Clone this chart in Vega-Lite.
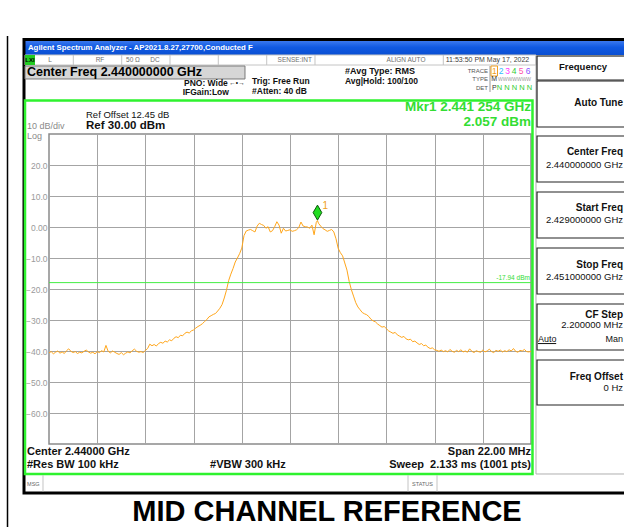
{
"$schema": "https://vega.github.io/schema/vega-lite/v6.json",
"width": 482, "height": 310,
"autosize": {"type": "none"},
"padding": {"left": 49, "top": 134, "right": 93, "bottom": 83},
"background": "white",
"config": {"font": "Liberation Sans", "view": {"stroke": "#8a8a8a", "strokeWidth": 1.5}, "text": {"font": "Liberation Sans", "baseline": "middle"}},
"data": {"values": [{}]},
"layer": [
{"mark": {"type": "line", "color": "#ffa61a", "strokeWidth": 1, "clip": true},
 "data": {"values": [
{"freq_MHz":2429.0,"level_dBm":-40.6},{"freq_MHz":2429.1,"level_dBm":-40.2},{"freq_MHz":2429.2,"level_dBm":-40.9},{"freq_MHz":2429.3,"level_dBm":-40.4},{"freq_MHz":2429.4,"level_dBm":-40.0},{"freq_MHz":2429.5,"level_dBm":-40.7},{"freq_MHz":2429.6,"level_dBm":-40.3},{"freq_MHz":2429.7,"level_dBm":-40.8},{"freq_MHz":2429.8,"level_dBm":-39.9},{"freq_MHz":2429.9,"level_dBm":-39.3},
{"freq_MHz":2430.0,"level_dBm":-40.1},{"freq_MHz":2430.1,"level_dBm":-40.5},{"freq_MHz":2430.2,"level_dBm":-40.2},{"freq_MHz":2430.3,"level_dBm":-40.8},{"freq_MHz":2430.4,"level_dBm":-40.4},{"freq_MHz":2430.5,"level_dBm":-40.6},{"freq_MHz":2430.6,"level_dBm":-40.1},{"freq_MHz":2430.7,"level_dBm":-39.7},{"freq_MHz":2430.8,"level_dBm":-40.3},{"freq_MHz":2430.9,"level_dBm":-40.7},
{"freq_MHz":2431.0,"level_dBm":-40.4},{"freq_MHz":2431.1,"level_dBm":-40.9},{"freq_MHz":2431.2,"level_dBm":-40.2},{"freq_MHz":2431.3,"level_dBm":-40.5},{"freq_MHz":2431.4,"level_dBm":-39.9},{"freq_MHz":2431.5,"level_dBm":-40.3},{"freq_MHz":2431.6,"level_dBm":-38.2},{"freq_MHz":2431.7,"level_dBm":-40.1},{"freq_MHz":2431.8,"level_dBm":-40.6},{"freq_MHz":2431.9,"level_dBm":-40.0},
{"freq_MHz":2432.0,"level_dBm":-40.4},{"freq_MHz":2432.1,"level_dBm":-40.8},{"freq_MHz":2432.2,"level_dBm":-41.1},{"freq_MHz":2432.3,"level_dBm":-40.5},{"freq_MHz":2432.4,"level_dBm":-41.2},{"freq_MHz":2432.5,"level_dBm":-40.7},{"freq_MHz":2432.6,"level_dBm":-40.3},{"freq_MHz":2432.7,"level_dBm":-40.6},{"freq_MHz":2432.8,"level_dBm":-39.9},{"freq_MHz":2432.9,"level_dBm":-39.4},
{"freq_MHz":2433.0,"level_dBm":-40.1},{"freq_MHz":2433.1,"level_dBm":-40.4},{"freq_MHz":2433.2,"level_dBm":-40.2},{"freq_MHz":2433.3,"level_dBm":-40.5},{"freq_MHz":2433.4,"level_dBm":-39.8},{"freq_MHz":2433.5,"level_dBm":-39.2},{"freq_MHz":2433.6,"level_dBm":-37.8},{"freq_MHz":2433.7,"level_dBm":-38.3},{"freq_MHz":2433.8,"level_dBm":-37.9},{"freq_MHz":2433.9,"level_dBm":-38.4},
{"freq_MHz":2434.0,"level_dBm":-37.6},{"freq_MHz":2434.1,"level_dBm":-37.2},{"freq_MHz":2434.2,"level_dBm":-37.5},{"freq_MHz":2434.3,"level_dBm":-36.8},{"freq_MHz":2434.4,"level_dBm":-37.1},{"freq_MHz":2434.5,"level_dBm":-36.4},{"freq_MHz":2434.6,"level_dBm":-36.7},{"freq_MHz":2434.7,"level_dBm":-35.9},{"freq_MHz":2434.8,"level_dBm":-35.4},{"freq_MHz":2434.9,"level_dBm":-35.7},
{"freq_MHz":2435.0,"level_dBm":-34.9},{"freq_MHz":2435.1,"level_dBm":-35.1},{"freq_MHz":2435.2,"level_dBm":-34.3},{"freq_MHz":2435.3,"level_dBm":-33.9},{"freq_MHz":2435.4,"level_dBm":-34.2},{"freq_MHz":2435.5,"level_dBm":-33.5},{"freq_MHz":2435.6,"level_dBm":-33.2},{"freq_MHz":2435.7,"level_dBm":-32.6},{"freq_MHz":2435.8,"level_dBm":-32.1},{"freq_MHz":2435.9,"level_dBm":-31.7},
{"freq_MHz":2436.0,"level_dBm":-31.2},{"freq_MHz":2436.1,"level_dBm":-30.5},{"freq_MHz":2436.2,"level_dBm":-29.9},{"freq_MHz":2436.3,"level_dBm":-29.0},{"freq_MHz":2436.4,"level_dBm":-28.6},{"freq_MHz":2436.5,"level_dBm":-28.2},{"freq_MHz":2436.6,"level_dBm":-27.9},{"freq_MHz":2436.7,"level_dBm":-27.1},{"freq_MHz":2436.8,"level_dBm":-26.2},{"freq_MHz":2436.9,"level_dBm":-25.0},
{"freq_MHz":2437.0,"level_dBm":-22.9},{"freq_MHz":2437.1,"level_dBm":-20.4},{"freq_MHz":2437.2,"level_dBm":-17.3},{"freq_MHz":2437.3,"level_dBm":-15.2},{"freq_MHz":2437.4,"level_dBm":-13.4},{"freq_MHz":2437.5,"level_dBm":-11.3},{"freq_MHz":2437.6,"level_dBm":-10.0},{"freq_MHz":2437.7,"level_dBm":-8.6},{"freq_MHz":2437.8,"level_dBm":-6.8},{"freq_MHz":2437.9,"level_dBm":-2.8},
{"freq_MHz":2438.0,"level_dBm":-1.3},{"freq_MHz":2438.1,"level_dBm":-1.0},{"freq_MHz":2438.2,"level_dBm":-0.8},{"freq_MHz":2438.3,"level_dBm":-1.2},{"freq_MHz":2438.4,"level_dBm":-1.6},{"freq_MHz":2438.5,"level_dBm":0.3},{"freq_MHz":2438.6,"level_dBm":1.2},{"freq_MHz":2438.7,"level_dBm":0.8},{"freq_MHz":2438.8,"level_dBm":0.5},{"freq_MHz":2438.9,"level_dBm":-0.4},
{"freq_MHz":2439.0,"level_dBm":0.1},{"freq_MHz":2439.1,"level_dBm":-1.6},{"freq_MHz":2439.2,"level_dBm":-1.2},{"freq_MHz":2439.3,"level_dBm":0.1},{"freq_MHz":2439.4,"level_dBm":1.7},{"freq_MHz":2439.5,"level_dBm":0.6},{"freq_MHz":2439.6,"level_dBm":-2.0},{"freq_MHz":2439.7,"level_dBm":-0.4},{"freq_MHz":2439.8,"level_dBm":-1.3},{"freq_MHz":2439.9,"level_dBm":-1.1},
{"freq_MHz":2440.0,"level_dBm":-0.9},{"freq_MHz":2440.1,"level_dBm":-1.4},{"freq_MHz":2440.2,"level_dBm":-1.2},{"freq_MHz":2440.3,"level_dBm":-0.9},{"freq_MHz":2440.4,"level_dBm":-0.2},{"freq_MHz":2440.5,"level_dBm":1.6},{"freq_MHz":2440.6,"level_dBm":0.3},{"freq_MHz":2440.7,"level_dBm":0.1},{"freq_MHz":2440.8,"level_dBm":0.0},{"freq_MHz":2440.9,"level_dBm":-0.4},
{"freq_MHz":2441.0,"level_dBm":0.6},{"freq_MHz":2441.1,"level_dBm":-2.5},{"freq_MHz":2441.2,"level_dBm":1.5},{"freq_MHz":2441.254,"level_dBm":2.057},{"freq_MHz":2441.3,"level_dBm":1.2},{"freq_MHz":2441.4,"level_dBm":0.3},{"freq_MHz":2441.5,"level_dBm":-0.5},{"freq_MHz":2441.6,"level_dBm":-0.9},{"freq_MHz":2441.7,"level_dBm":-1.4},{"freq_MHz":2441.8,"level_dBm":-1.1},{"freq_MHz":2441.9,"level_dBm":-0.8},
{"freq_MHz":2442.0,"level_dBm":-1.6},{"freq_MHz":2442.1,"level_dBm":-3.8},{"freq_MHz":2442.2,"level_dBm":-6.9},{"freq_MHz":2442.3,"level_dBm":-8.3},{"freq_MHz":2442.4,"level_dBm":-9.3},{"freq_MHz":2442.5,"level_dBm":-11.6},{"freq_MHz":2442.6,"level_dBm":-13.9},{"freq_MHz":2442.7,"level_dBm":-17.5},{"freq_MHz":2442.8,"level_dBm":-20.2},{"freq_MHz":2442.9,"level_dBm":-22.3},
{"freq_MHz":2443.0,"level_dBm":-24.4},{"freq_MHz":2443.1,"level_dBm":-25.8},{"freq_MHz":2443.2,"level_dBm":-26.7},{"freq_MHz":2443.3,"level_dBm":-27.6},{"freq_MHz":2443.4,"level_dBm":-28.0},{"freq_MHz":2443.5,"level_dBm":-28.3},{"freq_MHz":2443.6,"level_dBm":-28.9},{"freq_MHz":2443.7,"level_dBm":-29.8},{"freq_MHz":2443.8,"level_dBm":-30.3},{"freq_MHz":2443.9,"level_dBm":-30.6},
{"freq_MHz":2444.0,"level_dBm":-31.3},{"freq_MHz":2444.1,"level_dBm":-31.8},{"freq_MHz":2444.2,"level_dBm":-32.3},{"freq_MHz":2444.3,"level_dBm":-32.1},{"freq_MHz":2444.4,"level_dBm":-32.8},{"freq_MHz":2444.5,"level_dBm":-33.5},{"freq_MHz":2444.6,"level_dBm":-33.9},{"freq_MHz":2444.7,"level_dBm":-34.3},{"freq_MHz":2444.8,"level_dBm":-34.0},{"freq_MHz":2444.9,"level_dBm":-34.8},
{"freq_MHz":2445.0,"level_dBm":-35.2},{"freq_MHz":2445.1,"level_dBm":-35.6},{"freq_MHz":2445.2,"level_dBm":-35.3},{"freq_MHz":2445.3,"level_dBm":-36.1},{"freq_MHz":2445.4,"level_dBm":-36.4},{"freq_MHz":2445.5,"level_dBm":-36.2},{"freq_MHz":2445.6,"level_dBm":-37.0},{"freq_MHz":2445.7,"level_dBm":-36.8},{"freq_MHz":2445.8,"level_dBm":-37.4},{"freq_MHz":2445.9,"level_dBm":-37.9},
{"freq_MHz":2446.0,"level_dBm":-37.6},{"freq_MHz":2446.1,"level_dBm":-38.3},{"freq_MHz":2446.2,"level_dBm":-38.1},{"freq_MHz":2446.3,"level_dBm":-38.8},{"freq_MHz":2446.4,"level_dBm":-39.2},{"freq_MHz":2446.5,"level_dBm":-39.0},{"freq_MHz":2446.6,"level_dBm":-39.6},{"freq_MHz":2446.7,"level_dBm":-39.8},{"freq_MHz":2446.8,"level_dBm":-40.1},{"freq_MHz":2446.9,"level_dBm":-39.7},
{"freq_MHz":2447.0,"level_dBm":-40.2},{"freq_MHz":2447.1,"level_dBm":-39.9},{"freq_MHz":2447.2,"level_dBm":-40.3},{"freq_MHz":2447.3,"level_dBm":-39.5},{"freq_MHz":2447.4,"level_dBm":-40.1},{"freq_MHz":2447.5,"level_dBm":-40.4},{"freq_MHz":2447.6,"level_dBm":-39.8},{"freq_MHz":2447.7,"level_dBm":-40.2},{"freq_MHz":2447.8,"level_dBm":-39.6},{"freq_MHz":2447.9,"level_dBm":-40.3},
{"freq_MHz":2448.0,"level_dBm":-40.0},{"freq_MHz":2448.1,"level_dBm":-40.4},{"freq_MHz":2448.2,"level_dBm":-39.3},{"freq_MHz":2448.3,"level_dBm":-40.1},{"freq_MHz":2448.4,"level_dBm":-40.5},{"freq_MHz":2448.5,"level_dBm":-39.9},{"freq_MHz":2448.6,"level_dBm":-40.2},{"freq_MHz":2448.7,"level_dBm":-40.4},{"freq_MHz":2448.8,"level_dBm":-39.7},{"freq_MHz":2448.9,"level_dBm":-40.3},
{"freq_MHz":2449.0,"level_dBm":-40.0},{"freq_MHz":2449.1,"level_dBm":-39.4},{"freq_MHz":2449.2,"level_dBm":-40.2},{"freq_MHz":2449.3,"level_dBm":-40.5},{"freq_MHz":2449.4,"level_dBm":-39.8},{"freq_MHz":2449.5,"level_dBm":-40.1},{"freq_MHz":2449.6,"level_dBm":-39.7},{"freq_MHz":2449.7,"level_dBm":-40.3},{"freq_MHz":2449.8,"level_dBm":-39.9},{"freq_MHz":2449.9,"level_dBm":-40.2},
{"freq_MHz":2450.0,"level_dBm":-39.6},{"freq_MHz":2450.1,"level_dBm":-40.0},{"freq_MHz":2450.2,"level_dBm":-39.2},{"freq_MHz":2450.3,"level_dBm":-40.1},{"freq_MHz":2450.4,"level_dBm":-40.4},{"freq_MHz":2450.5,"level_dBm":-39.8},{"freq_MHz":2450.6,"level_dBm":-40.0},{"freq_MHz":2450.7,"level_dBm":-39.5},{"freq_MHz":2450.8,"level_dBm":-40.2},{"freq_MHz":2450.9,"level_dBm":-40.3},{"freq_MHz":2451.0,"level_dBm":-40.1}
 ]},
 "encoding": {
  "x": {"field": "freq_MHz", "type": "quantitative", "scale": {"domain": [2429, 2451], "nice": false, "zero": false},
        "axis": {"values": [2431.2, 2433.4, 2435.6, 2437.8, 2440, 2442.2, 2444.4, 2446.6, 2448.8], "tickCount": 20, "labels": false, "ticks": false, "domain": false, "title": null, "grid": true, "gridColor": "#a4a4a4", "gridOpacity": 1, "gridWidth": 1}},
  "y": {"field": "level_dBm", "type": "quantitative", "scale": {"domain": [-70, 30], "nice": false, "zero": false},
        "axis": {"values": [20, 10, 0, -10, -20, -30, -40, -50, -60], "tickCount": 20, "labelOverlap": false, "labelExpr": "datum.value == 0 ? '0.00' : format(datum.value, '.1f')", "ticks": false, "domain": false, "title": null, "grid": true, "gridColor": "#a4a4a4", "gridOpacity": 1, "labelColor": "#9a9a9a", "labelFontSize": 8.5, "labelPadding": 2}}
 }},

{"mark": {"type": "rule", "color": "black", "strokeWidth": 1.5}, "encoding": {"x": {"datum": 2427.106, "type": "quantitative"}, "y": {"datum": 61.613, "type": "quantitative"}, "y2": {"datum": -96.774}}},
{"mark": {"type": "rect", "fill": {"gradient": "linear", "x1": 0, "y1": 0, "x2": 0, "y2": 1, "stops": [{"offset": 0, "color": "#3a78ee"}, {"offset": 0.45, "color": "#1059e2"}, {"offset": 1, "color": "#0a4fd2"}]}}, "encoding": {"x": {"datum": 2427.905, "type": "quantitative"}, "x2": {"datum": 2455.336}, "y": {"datum": 60.0, "type": "quantitative"}, "y2": {"datum": 55.484}}},
{"mark": {"type": "text", "text": "Agilent Spectrum Analyzer - AP2021.8.27,27700,Conducted F", "fontSize": 7.8, "fontWeight": "bold", "color": "white", "align": "left"}, "encoding": {"x": {"datum": 2428.041, "type": "quantitative"}, "y": {"datum": 57.6, "type": "quantitative"}}},
{"mark": {"type": "rect", "fill": "transparent", "stroke": "black", "strokeWidth": 3}, "encoding": {"x": {"datum": 2427.859, "type": "quantitative"}, "x2": {"datum": 2455.6}, "y": {"datum": 60.484, "type": "quantitative"}, "y2": {"datum": -85.806}}},

{"mark": {"type": "rect", "fill": "white", "stroke": "#c4c4c4", "strokeWidth": 1}, "encoding": {"x": {"datum": 2427.905, "type": "quantitative"}, "x2": {"datum": 2451.228}, "y": {"datum": 55.484, "type": "quantitative"}, "y2": {"datum": 52.258}}},
{"mark": {"type": "rect", "fill": "#22cc22"}, "encoding": {"x": {"datum": 2427.905, "type": "quantitative"}, "x2": {"datum": 2428.361}, "y": {"datum": 55.484, "type": "quantitative"}, "y2": {"datum": 52.258}}},
{"mark": {"type": "text", "text": "LXI", "fontSize": 6, "fontWeight": "bold", "color": "black", "align": "center"}, "encoding": {"x": {"datum": 2428.133, "type": "quantitative"}, "y": {"datum": 53.871, "type": "quantitative"}}},
{"mark": {"type": "rule", "color": "#c4c4c4"}, "encoding": {"x": {"datum": 2430.109, "type": "quantitative"}, "y": {"datum": 55.484, "type": "quantitative"}, "y2": {"datum": 52.258}}},
{"mark": {"type": "rule", "color": "#c4c4c4"}, "encoding": {"x": {"datum": 2432.318, "type": "quantitative"}, "y": {"datum": 55.484, "type": "quantitative"}, "y2": {"datum": 52.258}}},
{"mark": {"type": "rule", "color": "#c4c4c4"}, "encoding": {"x": {"datum": 2434.523, "type": "quantitative"}, "y": {"datum": 55.484, "type": "quantitative"}, "y2": {"datum": 52.258}}},
{"mark": {"type": "rule", "color": "#c4c4c4"}, "encoding": {"x": {"datum": 2436.727, "type": "quantitative"}, "y": {"datum": 55.484, "type": "quantitative"}, "y2": {"datum": 52.258}}},
{"mark": {"type": "rule", "color": "#c4c4c4"}, "encoding": {"x": {"datum": 2438.937, "type": "quantitative"}, "y": {"datum": 55.484, "type": "quantitative"}, "y2": {"datum": 52.258}}},
{"mark": {"type": "rule", "color": "#c4c4c4"}, "encoding": {"x": {"datum": 2441.141, "type": "quantitative"}, "y": {"datum": 55.484, "type": "quantitative"}, "y2": {"datum": 52.258}}},
{"mark": {"type": "rule", "color": "#c4c4c4"}, "encoding": {"x": {"datum": 2446.997, "type": "quantitative"}, "y": {"datum": 55.484, "type": "quantitative"}, "y2": {"datum": 52.258}}},
{"mark": {"type": "text", "text": "L", "fontSize": 6.5, "color": "#707070", "align": "center"}, "encoding": {"x": {"datum": 2429.046, "type": "quantitative"}, "y": {"datum": 53.871, "type": "quantitative"}}},
{"mark": {"type": "text", "text": "RF", "fontSize": 6.5, "color": "#707070", "align": "center"}, "encoding": {"x": {"datum": 2431.328, "type": "quantitative"}, "y": {"datum": 53.871, "type": "quantitative"}}},
{"mark": {"type": "text", "text": "50 Ω", "fontSize": 6.5, "color": "#707070", "align": "center"}, "encoding": {"x": {"datum": 2432.834, "type": "quantitative"}, "y": {"datum": 53.871, "type": "quantitative"}}},
{"mark": {"type": "text", "text": "DC", "fontSize": 6.5, "color": "#707070", "align": "center"}, "encoding": {"x": {"datum": 2433.838, "type": "quantitative"}, "y": {"datum": 53.871, "type": "quantitative"}}},
{"mark": {"type": "text", "text": "SENSE:INT", "fontSize": 6.5, "color": "#707070", "align": "right"}, "encoding": {"x": {"datum": 2441.0, "type": "quantitative"}, "y": {"datum": 53.871, "type": "quantitative"}}},
{"mark": {"type": "text", "text": "ALIGN AUTO", "fontSize": 6.5, "color": "#707070", "align": "center"}, "encoding": {"x": {"datum": 2445.295, "type": "quantitative"}, "y": {"datum": 53.871, "type": "quantitative"}}},
{"mark": {"type": "text", "text": "11:53:50 PM May 17, 2022", "fontSize": 7, "color": "#404040", "align": "center"}, "encoding": {"x": {"datum": 2449.014, "type": "quantitative"}, "y": {"datum": 53.871, "type": "quantitative"}}},

{"mark": {"type": "rect", "fill": "#d6d6d6", "stroke": "#7a7a7a", "strokeWidth": 1}, "encoding": {"x": {"datum": 2427.905, "type": "quantitative"}, "x2": {"datum": 2437.946}, "y": {"datum": 51.935, "type": "quantitative"}, "y2": {"datum": 47.742}}},
{"mark": {"type": "text", "text": "Center Freq 2.440000000 GHz", "fontSize": 12.5, "fontWeight": "bold", "color": "black", "align": "left"}, "encoding": {"x": {"datum": 2427.996, "type": "quantitative"}, "y": {"datum": 49.839, "type": "quantitative"}}},
{"mark": {"type": "text", "text": "PNO: Wide", "fontSize": 8.5, "fontWeight": "bold", "color": "#111", "align": "left"}, "encoding": {"x": {"datum": 2435.162, "type": "quantitative"}, "y": {"datum": 46.452, "type": "quantitative"}}},
{"mark": {"type": "text", "text": "←•→", "fontSize": 6.5, "color": "#111", "align": "center"}, "encoding": {"x": {"datum": 2437.581, "type": "quantitative"}, "y": {"datum": 46.6, "type": "quantitative"}}},
{"mark": {"type": "text", "text": "IFGain:Low", "fontSize": 8.5, "fontWeight": "bold", "color": "#111", "align": "left"}, "encoding": {"x": {"datum": 2435.1, "type": "quantitative"}, "y": {"datum": 43.548, "type": "quantitative"}}},
{"mark": {"type": "text", "text": "Trig: Free Run", "fontSize": 8.5, "fontWeight": "bold", "color": "#111", "align": "left"}, "encoding": {"x": {"datum": 2438.266, "type": "quantitative"}, "y": {"datum": 47.097, "type": "quantitative"}}},
{"mark": {"type": "text", "text": "#Atten: 40 dB", "fontSize": 8.5, "fontWeight": "bold", "color": "#111", "align": "left"}, "encoding": {"x": {"datum": 2438.266, "type": "quantitative"}, "y": {"datum": 43.871, "type": "quantitative"}}},
{"mark": {"type": "text", "text": "#Avg Type: RMS", "fontSize": 9, "fontWeight": "bold", "color": "#111", "align": "left"}, "encoding": {"x": {"datum": 2442.51, "type": "quantitative"}, "y": {"datum": 50.323, "type": "quantitative"}}},
{"mark": {"type": "text", "text": "Avg|Hold: 100/100", "fontSize": 8.5, "fontWeight": "bold", "color": "#111", "align": "left"}, "encoding": {"x": {"datum": 2442.51, "type": "quantitative"}, "y": {"datum": 47.097, "type": "quantitative"}}},
{"mark": {"type": "text", "text": "TRACE", "fontSize": 6, "color": "#555", "align": "right"}, "encoding": {"x": {"datum": 2449.037, "type": "quantitative"}, "y": {"datum": 50.323, "type": "quantitative"}}},
{"mark": {"type": "text", "text": "TYPE", "fontSize": 6, "color": "#555", "align": "right"}, "encoding": {"x": {"datum": 2449.037, "type": "quantitative"}, "y": {"datum": 47.645, "type": "quantitative"}}},
{"mark": {"type": "text", "text": "DET", "fontSize": 6, "color": "#555", "align": "right"}, "encoding": {"x": {"datum": 2449.037, "type": "quantitative"}, "y": {"datum": 44.935, "type": "quantitative"}}},
{"mark": {"type": "rule", "color": "#999"}, "encoding": {"x": {"datum": 2449.129, "type": "quantitative"}, "y": {"datum": 51.935, "type": "quantitative"}, "y2": {"datum": 43.548}}},
{"mark": {"type": "rect", "fill": "transparent", "stroke": "#f0a020", "strokeWidth": 1}, "encoding": {"x": {"datum": 2449.174, "type": "quantitative"}, "x2": {"datum": 2449.471}, "y": {"datum": 51.935, "type": "quantitative"}, "y2": {"datum": 48.71}}},
{"mark": {"type": "text", "text": "1", "fontSize": 8.5, "color": "#f0a020", "align": "center"}, "encoding": {"x": {"datum": 2449.322, "type": "quantitative"}, "y": {"datum": 50.323, "type": "quantitative"}}},
{"mark": {"type": "text", "text": "2", "fontSize": 8.5, "color": "#33bbff", "align": "center"}, "encoding": {"x": {"datum": 2449.631, "type": "quantitative"}, "y": {"datum": 50.323, "type": "quantitative"}}},
{"mark": {"type": "text", "text": "3", "fontSize": 8.5, "color": "#ff33ff", "align": "center"}, "encoding": {"x": {"datum": 2449.927, "type": "quantitative"}, "y": {"datum": 50.323, "type": "quantitative"}}},
{"mark": {"type": "text", "text": "4", "fontSize": 8.5, "color": "#33cc33", "align": "center"}, "encoding": {"x": {"datum": 2450.224, "type": "quantitative"}, "y": {"datum": 50.323, "type": "quantitative"}}},
{"mark": {"type": "text", "text": "5", "fontSize": 8.5, "color": "#ff55aa", "align": "center"}, "encoding": {"x": {"datum": 2450.543, "type": "quantitative"}, "y": {"datum": 50.323, "type": "quantitative"}}},
{"mark": {"type": "text", "text": "6", "fontSize": 8.5, "color": "#8855ff", "align": "center"}, "encoding": {"x": {"datum": 2450.863, "type": "quantitative"}, "y": {"datum": 50.323, "type": "quantitative"}}},
{"mark": {"type": "text", "text": "M", "fontSize": 7, "color": "#333", "align": "center"}, "encoding": {"x": {"datum": 2449.322, "type": "quantitative"}, "y": {"datum": 47.645, "type": "quantitative"}}},
{"mark": {"type": "text", "text": "WWWWWWW", "fontSize": 5, "color": "#9a9a9a", "align": "center"}, "encoding": {"x": {"datum": 2450.25, "type": "quantitative"}, "y": {"datum": 47.645, "type": "quantitative"}}},
{"mark": {"type": "text", "text": "P", "fontSize": 7, "color": "#333", "align": "center"}, "encoding": {"x": {"datum": 2449.322, "type": "quantitative"}, "y": {"datum": 44.935, "type": "quantitative"}}},
{"mark": {"type": "text", "text": "N N N N N", "fontSize": 7.5, "color": "#33cc33", "align": "center"}, "encoding": {"x": {"datum": 2450.247, "type": "quantitative"}, "y": {"datum": 44.935, "type": "quantitative"}}},

{"mark": {"type": "rect", "fill": "transparent", "stroke": "#b0b0b0", "strokeWidth": 1}, "encoding": {"x": {"datum": 2451.228, "type": "quantitative"}, "x2": {"datum": 2455.61}, "y": {"datum": 55.161, "type": "quantitative"}, "y2": {"datum": -79.677}}},
{"mark": {"type": "rect", "fill": "transparent", "stroke": "#222", "strokeWidth": 1.2}, "encoding": {"x": {"datum": 2451.274, "type": "quantitative"}, "x2": {"datum": 2455.61}, "y": {"datum": 55.161, "type": "quantitative"}, "y2": {"datum": 47.419}}},
{"mark": {"type": "text", "text": "Frequency", "fontSize": 9.5, "fontWeight": "bold", "color": "#111", "align": "center"}, "encoding": {"x": {"datum": 2453.374, "type": "quantitative"}, "y": {"datum": 51.613, "type": "quantitative"}}},
{"mark": {"type": "rect", "fill": "transparent", "stroke": "#222", "strokeWidth": 1.2}, "encoding": {"x": {"datum": 2451.274, "type": "quantitative"}, "x2": {"datum": 2455.61}, "y": {"datum": 47.097, "type": "quantitative"}, "y2": {"datum": 32.258}}},
{"mark": {"type": "text", "text": "Auto Tune", "fontSize": 10, "fontWeight": "bold", "color": "#111", "align": "right"}, "encoding": {"x": {"datum": 2455.2, "type": "quantitative"}, "y": {"datum": 40.0, "type": "quantitative"}}},
{"mark": {"type": "rect", "fill": "transparent", "stroke": "#222", "strokeWidth": 1.2}, "encoding": {"x": {"datum": 2451.274, "type": "quantitative"}, "x2": {"datum": 2455.61}, "y": {"datum": 29.355, "type": "quantitative"}, "y2": {"datum": 14.516}}},
{"mark": {"type": "text", "text": "Center Freq", "fontSize": 10, "fontWeight": "bold", "color": "#111", "align": "right"}, "encoding": {"x": {"datum": 2455.2, "type": "quantitative"}, "y": {"datum": 24.194, "type": "quantitative"}}},
{"mark": {"type": "text", "text": "2.440000000 GHz", "fontSize": 9.5, "color": "#111", "align": "right"}, "encoding": {"x": {"datum": 2455.2, "type": "quantitative"}, "y": {"datum": 20.0, "type": "quantitative"}}},
{"mark": {"type": "rect", "fill": "transparent", "stroke": "#222", "strokeWidth": 1.2}, "encoding": {"x": {"datum": 2451.274, "type": "quantitative"}, "x2": {"datum": 2455.61}, "y": {"datum": 11.29, "type": "quantitative"}, "y2": {"datum": -3.548}}},
{"mark": {"type": "text", "text": "Start Freq", "fontSize": 10, "fontWeight": "bold", "color": "#111", "align": "right"}, "encoding": {"x": {"datum": 2455.2, "type": "quantitative"}, "y": {"datum": 6.129, "type": "quantitative"}}},
{"mark": {"type": "text", "text": "2.429000000 GHz", "fontSize": 9.5, "color": "#111", "align": "right"}, "encoding": {"x": {"datum": 2455.2, "type": "quantitative"}, "y": {"datum": 2.258, "type": "quantitative"}}},
{"mark": {"type": "rect", "fill": "transparent", "stroke": "#222", "strokeWidth": 1.2}, "encoding": {"x": {"datum": 2451.274, "type": "quantitative"}, "x2": {"datum": 2455.61}, "y": {"datum": -6.774, "type": "quantitative"}, "y2": {"datum": -21.613}}},
{"mark": {"type": "text", "text": "Stop Freq", "fontSize": 10, "fontWeight": "bold", "color": "#111", "align": "right"}, "encoding": {"x": {"datum": 2455.2, "type": "quantitative"}, "y": {"datum": -12.258, "type": "quantitative"}}},
{"mark": {"type": "text", "text": "2.451000000 GHz", "fontSize": 9.5, "color": "#111", "align": "right"}, "encoding": {"x": {"datum": 2455.2, "type": "quantitative"}, "y": {"datum": -16.129, "type": "quantitative"}}},
{"mark": {"type": "rect", "fill": "transparent", "stroke": "#222", "strokeWidth": 1.2}, "encoding": {"x": {"datum": 2451.274, "type": "quantitative"}, "x2": {"datum": 2455.61}, "y": {"datum": -24.839, "type": "quantitative"}, "y2": {"datum": -39.677}}},
{"mark": {"type": "text", "text": "CF Step", "fontSize": 10, "fontWeight": "bold", "color": "#111", "align": "right"}, "encoding": {"x": {"datum": 2455.2, "type": "quantitative"}, "y": {"datum": -28.387, "type": "quantitative"}}},
{"mark": {"type": "text", "text": "2.200000 MHz", "fontSize": 9.5, "color": "#111", "align": "right"}, "encoding": {"x": {"datum": 2455.2, "type": "quantitative"}, "y": {"datum": -31.613, "type": "quantitative"}}},
{"mark": {"type": "text", "text": "Auto", "fontSize": 9, "color": "#111", "align": "left"}, "encoding": {"x": {"datum": 2451.32, "type": "quantitative"}, "y": {"datum": -36.129, "type": "quantitative"}}},
{"mark": {"type": "rule", "color": "#111"}, "encoding": {"x": {"datum": 2451.32, "type": "quantitative"}, "x2": {"datum": 2452.15}, "y": {"datum": -37.6, "type": "quantitative"}}},
{"mark": {"type": "text", "text": "Man", "fontSize": 9, "color": "#111", "align": "right"}, "encoding": {"x": {"datum": 2455.2, "type": "quantitative"}, "y": {"datum": -36.129, "type": "quantitative"}}},
{"mark": {"type": "rect", "fill": "transparent", "stroke": "#222", "strokeWidth": 1.2}, "encoding": {"x": {"datum": 2451.274, "type": "quantitative"}, "x2": {"datum": 2455.61}, "y": {"datum": -42.903, "type": "quantitative"}, "y2": {"datum": -57.419}}},
{"mark": {"type": "text", "text": "Freq Offset", "fontSize": 10, "fontWeight": "bold", "color": "#111", "align": "right"}, "encoding": {"x": {"datum": 2455.2, "type": "quantitative"}, "y": {"datum": -48.387, "type": "quantitative"}}},
{"mark": {"type": "text", "text": "0 Hz", "fontSize": 9.5, "color": "#111", "align": "right"}, "encoding": {"x": {"datum": 2455.2, "type": "quantitative"}, "y": {"datum": -51.935, "type": "quantitative"}}},

{"mark": {"type": "rect", "fill": "transparent", "stroke": "#2ef22e", "strokeWidth": 2.5}, "encoding": {"x": {"datum": 2427.905, "type": "quantitative"}, "x2": {"datum": 2451.068}, "y": {"datum": 40.806, "type": "quantitative"}, "y2": {"datum": -79.677}}},
{"mark": {"type": "text", "text": "Ref Offset 12.45 dB", "fontSize": 9.5, "color": "#111", "align": "left"}, "encoding": {"x": {"datum": 2430.689, "type": "quantitative"}, "y": {"datum": 36.129, "type": "quantitative"}}},
{"mark": {"type": "text", "text": "Ref 30.00 dBm", "fontSize": 11.5, "fontWeight": "bold", "color": "#111", "align": "left"}, "encoding": {"x": {"datum": 2430.689, "type": "quantitative"}, "y": {"datum": 32.581, "type": "quantitative"}}},
{"mark": {"type": "text", "text": "10 dB/div", "fontSize": 9, "color": "#8a8a8a", "align": "left"}, "encoding": {"x": {"datum": 2427.996, "type": "quantitative"}, "y": {"datum": 32.5, "type": "quantitative"}}},
{"mark": {"type": "text", "text": "Log", "fontSize": 9, "color": "#8a8a8a", "align": "left"}, "encoding": {"x": {"datum": 2427.996, "type": "quantitative"}, "y": {"datum": 29.4, "type": "quantitative"}}},
{"mark": {"type": "text", "text": "Mkr1 2.441 254 GHz", "fontSize": 13.5, "fontWeight": "bold", "color": "#33dd33", "align": "right"}, "encoding": {"x": {"datum": 2451.0, "type": "quantitative"}, "y": {"datum": 38.55, "type": "quantitative"}}},
{"mark": {"type": "text", "text": "2.057 dBm", "fontSize": 13.5, "fontWeight": "bold", "color": "#33dd33", "align": "right"}, "encoding": {"x": {"datum": 2451.0, "type": "quantitative"}, "y": {"datum": 33.8, "type": "quantitative"}}},

{"mark": {"type": "rule", "color": "#44ee44", "strokeWidth": 1}, "encoding": {"x": {"datum": 2429, "type": "quantitative"}, "x2": {"datum": 2451}, "y": {"datum": -17.94, "type": "quantitative"}}},
{"mark": {"type": "text", "text": "-17.94 dBm", "fontSize": 6.5, "color": "#33dd33", "align": "right", "dy": -5}, "encoding": {"x": {"datum": 2450.95, "type": "quantitative"}, "y": {"datum": -17.94, "type": "quantitative"}}},

{"mark": {"type": "point", "shape": "M0,-1L0.58,0L0,1L-0.58,0Z", "size": 225, "filled": true, "fill": "#22dd22", "stroke": "#0b5a0b", "strokeWidth": 1, "opacity": 1, "yOffset": -8}, "encoding": {"x": {"datum": 2441.254, "type": "quantitative"}, "y": {"datum": 2.057, "type": "quantitative"}}},
{"mark": {"type": "text", "text": "1", "fontSize": 10, "color": "#f0a020", "align": "left", "dx": 5, "dy": -15}, "encoding": {"x": {"datum": 2441.254, "type": "quantitative"}, "y": {"datum": 2.057, "type": "quantitative"}}},

{"mark": {"type": "text", "text": "Center 2.44000 GHz", "fontSize": 11, "fontWeight": "bold", "color": "#111", "align": "left"}, "encoding": {"x": {"datum": 2427.996, "type": "quantitative"}, "y": {"datum": -72.581, "type": "quantitative"}}},
{"mark": {"type": "text", "text": "#Res BW 100 kHz", "fontSize": 11, "fontWeight": "bold", "color": "#111", "align": "left"}, "encoding": {"x": {"datum": 2427.996, "type": "quantitative"}, "y": {"datum": -76.774, "type": "quantitative"}}},
{"mark": {"type": "text", "text": "#VBW 300 kHz", "fontSize": 11, "fontWeight": "bold", "color": "#111", "align": "left"}, "encoding": {"x": {"datum": 2436.349, "type": "quantitative"}, "y": {"datum": -76.774, "type": "quantitative"}}},
{"mark": {"type": "text", "text": "Span 22.00 MHz", "fontSize": 11, "fontWeight": "bold", "color": "#111", "align": "right"}, "encoding": {"x": {"datum": 2451.0, "type": "quantitative"}, "y": {"datum": -72.581, "type": "quantitative"}}},
{"mark": {"type": "text", "text": "Sweep\u00a0 2.133 ms (1001 pts)", "fontSize": 11, "fontWeight": "bold", "color": "#111", "align": "right"}, "encoding": {"x": {"datum": 2451.0, "type": "quantitative"}, "y": {"datum": -76.774, "type": "quantitative"}}},

{"mark": {"type": "text", "text": "MSG", "fontSize": 5.5, "color": "#666", "align": "left"}, "encoding": {"x": {"datum": 2428.0, "type": "quantitative"}, "y": {"datum": -82.742, "type": "quantitative"}}},
{"mark": {"type": "rule", "color": "#c4c4c4"}, "encoding": {"x": {"datum": 2428.726, "type": "quantitative"}, "y": {"datum": -80.0, "type": "quantitative"}, "y2": {"datum": -85.3}}},
{"mark": {"type": "rule", "color": "#c4c4c4"}, "encoding": {"x": {"datum": 2445.386, "type": "quantitative"}, "y": {"datum": -80.0, "type": "quantitative"}, "y2": {"datum": -85.3}}},
{"mark": {"type": "rule", "color": "#c4c4c4"}, "encoding": {"x": {"datum": 2446.71, "type": "quantitative"}, "y": {"datum": -80.0, "type": "quantitative"}, "y2": {"datum": -85.3}}},
{"mark": {"type": "text", "text": "STATUS", "fontSize": 5.5, "color": "#666", "align": "center"}, "encoding": {"x": {"datum": 2446.048, "type": "quantitative"}, "y": {"datum": -82.742, "type": "quantitative"}}},

{"mark": {"type": "text", "text": "MID CHANNEL REFERENCE", "fontSize": 29, "fontWeight": "bold", "color": "black", "align": "center"}, "encoding": {"x": {"datum": 2441.689, "type": "quantitative"}, "y": {"datum": -91.935, "type": "quantitative"}}}
]
}
